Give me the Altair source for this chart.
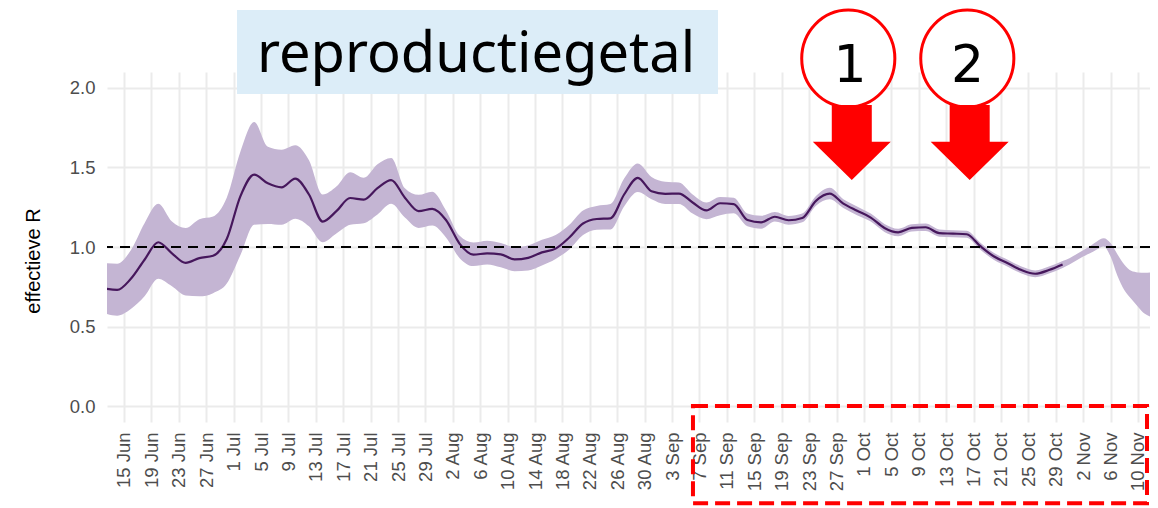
import altair as alt
import pandas as pd

# ---------------- data ----------------
dates = [
    "2020-06-12", "2020-06-14", "2020-06-16", "2020-06-18", "2020-06-20",
    "2020-06-22", "2020-06-24", "2020-06-26", "2020-06-28", "2020-06-30",
    "2020-07-02", "2020-07-04", "2020-07-06", "2020-07-08", "2020-07-10",
    "2020-07-12", "2020-07-14", "2020-07-16", "2020-07-18", "2020-07-20",
    "2020-07-22", "2020-07-24", "2020-07-26", "2020-07-28", "2020-07-30",
    "2020-08-01", "2020-08-03", "2020-08-05", "2020-08-07", "2020-08-09",
    "2020-08-11", "2020-08-13", "2020-08-15", "2020-08-17", "2020-08-19",
    "2020-08-21", "2020-08-23", "2020-08-25", "2020-08-27", "2020-08-29",
    "2020-08-31",
    "2020-09-02", "2020-09-04", "2020-09-06", "2020-09-08", "2020-09-10",
    "2020-09-12", "2020-09-14", "2020-09-16", "2020-09-18", "2020-09-20",
    "2020-09-22", "2020-09-24", "2020-09-26", "2020-09-28", "2020-09-30",
    "2020-10-02", "2020-10-04", "2020-10-06", "2020-10-08", "2020-10-10",
    "2020-10-12", "2020-10-14", "2020-10-16", "2020-10-18", "2020-10-20",
    "2020-10-22", "2020-10-24", "2020-10-26", "2020-10-28", "2020-10-30",
]
r_median = [
    0.74, 0.73, 0.80, 0.92, 1.03, 0.96, 0.90, 0.93, 0.945, 1.05,
    1.32, 1.455, 1.40, 1.375, 1.43, 1.33, 1.16, 1.225, 1.308, 1.298,
    1.37, 1.42, 1.31, 1.225, 1.24,
    1.17, 1.02, 0.952, 0.96, 0.954, 0.922, 0.932, 0.966, 0.99, 1.06,
    1.148, 1.176, 1.18, 1.33, 1.435, 1.35,
    1.334, 1.336, 1.28, 1.23, 1.275, 1.27, 1.17, 1.155, 1.19, 1.168,
    1.182, 1.29, 1.335, 1.273, 1.228,
    1.185, 1.12, 1.092, 1.12, 1.124, 1.087, 1.084, 1.08, 1.005, 0.94,
    0.898, 0.855, 0.832, 0.855, 0.89,
]
r_upper = [
    0.90, 0.895, 0.98, 1.15, 1.272, 1.16, 1.12, 1.175, 1.192, 1.31,
    1.60, 1.785, 1.63, 1.612, 1.64, 1.545, 1.33, 1.38, 1.47, 1.435,
    1.52, 1.56, 1.37, 1.328, 1.348,
    1.23, 1.07, 1.028, 1.04, 1.025, 1.0, 1.01, 1.045, 1.075, 1.14,
    1.23, 1.258, 1.27, 1.43, 1.525, 1.44,
    1.41, 1.405, 1.33, 1.28, 1.315, 1.31, 1.21, 1.196, 1.22, 1.195,
    1.21, 1.32, 1.372, 1.30, 1.255,
    1.21, 1.145, 1.115, 1.143, 1.147, 1.11, 1.105, 1.102, 1.027, 0.962,
    0.92, 0.877, 0.853, 0.877, 0.912,
]
r_lower = [
    0.585, 0.568, 0.61, 0.69, 0.80, 0.753, 0.695, 0.69, 0.71, 0.77,
    0.95, 1.14, 1.145, 1.14, 1.178, 1.13, 1.03, 1.085, 1.14, 1.15,
    1.205, 1.272, 1.185, 1.12, 1.135,
    1.06, 0.93, 0.88, 0.89, 0.872, 0.848, 0.853, 0.884, 0.925, 0.985,
    1.075, 1.109, 1.11, 1.255, 1.345, 1.30,
    1.27, 1.27, 1.21, 1.175, 1.20, 1.212, 1.13, 1.115, 1.16, 1.14,
    1.155, 1.26, 1.30, 1.245, 1.20,
    1.16, 1.095, 1.068, 1.097, 1.10, 1.065, 1.062, 1.058, 0.983, 0.918,
    0.876, 0.833, 0.81, 0.833, 0.868,
]
# ribbon continues after the median line stops
tail_dates = [
    "2020-10-31", "2020-11-01", "2020-11-02", "2020-11-03", "2020-11-04",
    "2020-11-05", "2020-11-06", "2020-11-07", "2020-11-08", "2020-11-09",
    "2020-11-10", "2020-11-11", "2020-11-12",
]
tail_upper = [0.93, 0.955, 0.98, 1.005, 1.035, 1.055, 1.025, 0.955, 0.89, 0.85, 0.84, 0.838, 0.84]
tail_lower = [0.89, 0.915, 0.94, 0.96, 0.985, 1.003, 0.94, 0.82, 0.73, 0.675, 0.625, 0.58, 0.56]

tick_dates = [
    "2020-06-15", "2020-06-19", "2020-06-23", "2020-06-27", "2020-07-01",
    "2020-07-05", "2020-07-09", "2020-07-13", "2020-07-17", "2020-07-21",
    "2020-07-25", "2020-07-29", "2020-08-02", "2020-08-06", "2020-08-10",
    "2020-08-14", "2020-08-18", "2020-08-22", "2020-08-26", "2020-08-30",
    "2020-09-03", "2020-09-07", "2020-09-11", "2020-09-15", "2020-09-19",
    "2020-09-23", "2020-09-27", "2020-10-01", "2020-10-05", "2020-10-09",
    "2020-10-13", "2020-10-17", "2020-10-21", "2020-10-25", "2020-10-29",
    "2020-11-02", "2020-11-06", "2020-11-10",
]
y_ticks = [0.0, 0.5, 1.0, 1.5, 2.0]
x_range = ["2020-06-12T12:30:00", "2020-11-11T18:10:00"]
y_range = [-0.1, 2.1]
y_title = "effectieve R"
y_title_pos = ["2020-06-02T17:45:00Z", 0.912]

# annotations (in data units)
title_box_x = ["2020-07-01T11:50:00Z", "2020-09-09T16:50:00Z"]
title_box_y = [1.962, 2.49]
title_text = "reproductiegetal"
title_text_pos = ["2020-08-05T09:10:00Z", 2.10]
marker_labels = ["1", "2"]
marker_circle_x = ["2020-09-28T17:15:00Z", "2020-10-16T02:10:00Z"]
marker_circle_y = [2.185, 2.185]
marker_text_x = ["2020-09-28T23:15:00Z", "2020-10-16T02:50:00Z"]
marker_text_y = [2.037, 2.037]
arrow_x = ["2020-09-29T05:30:00Z", "2020-10-16T10:30:00Z"]
arrow_y = [1.657, 1.657]
box_x = ["2020-09-06T01:10:00Z", "2020-11-11T07:40:00Z"]
box_y = [0.0, -0.61]


def ms(s):
    return int(pd.Timestamp(s).value // 10**6)


iso = lambda s: s + "T00:00:00Z"

ribbon_df = pd.DataFrame({
    "date": [iso(d) for d in dates + tail_dates],
    "lower": r_lower + tail_lower,
    "upper": r_upper + tail_upper,
})
line_df = pd.DataFrame({"date": [iso(d) for d in dates], "median": r_median})

xscale = alt.Scale(domain=[ms(x_range[0]), ms(x_range[1])])
yscale = alt.Scale(domain=y_range, nice=False, zero=False)

LABEL_FONT = "Liberation Sans"
x_axis = alt.Axis(
    values=[ms(t) for t in tick_dates],
    labelExpr="utcFormat(datum.value, '%-d %b')",
    labelAngle=270, grid=True, title=None, labelOverlap=False,
)
y_axis = alt.Axis(values=y_ticks, format=".1f", grid=True, title=None)


def X(field):
    return alt.X(field, scale=xscale, axis=x_axis)


def Y(field):
    return alt.Y(field, scale=yscale, axis=y_axis)


ribbon = alt.Chart(ribbon_df).mark_area(
    color="#c4b5d3", opacity=1, interpolate="monotone", clip=True
).encode(x=X("date:T"), y=Y("lower:Q"), y2="upper:Q")

line = alt.Chart(line_df).mark_line(
    color="#46175c", strokeWidth=2.2, interpolate="monotone", clip=True
).encode(x=X("date:T"), y=Y("median:Q"))

ref = alt.Chart(pd.DataFrame({"r": [1.0]})).mark_rule(
    color="black", strokeDash=[10, 7], strokeWidth=2
).encode(y=Y("r:Q"))

ytitle = alt.Chart(pd.DataFrame({"x": [y_title_pos[0]], "y": [y_title_pos[1]],
                                 "t": [y_title]})).mark_text(
    font=LABEL_FONT, fontSize=20, color="black", angle=270,
    align="center", baseline="alphabetic",
).encode(x=X("x:T"), y=Y("y:Q"), text="t:N")

tbox_df = pd.DataFrame({"x1": [title_box_x[0]], "x2": [title_box_x[1]],
                        "y1": [title_box_y[0]], "y2": [title_box_y[1]]})
tbox = alt.Chart(tbox_df).mark_rect(color="#dcedf8").encode(
    x=X("x1:T"), x2="x2:T", y=Y("y1:Q"), y2="y2:Q",
)
ttext = alt.Chart(pd.DataFrame({"x": [title_text_pos[0]], "y": [title_text_pos[1]],
                                "t": [title_text]})).mark_text(
    font="Noto Sans", fontSize=56, color="black", align="center", baseline="alphabetic"
).encode(x=X("x:T"), y=Y("y:Q"), text="t:N")

circ_df = pd.DataFrame({"x": marker_circle_x, "y": marker_circle_y})
circles = alt.Chart(circ_df).mark_point(
    shape="M0.96,0A0.96,1,0,1,1,-0.96,0A0.96,1,0,1,1,0.96,0Z",
    size=9409, filled=True, fill="white", stroke="red", strokeWidth=3, opacity=1,
).encode(x=X("x:T"), y=Y("y:Q"))

arrow_df = pd.DataFrame({"x": arrow_x, "y": arrow_y})
arrows = alt.Chart(arrow_df).mark_point(
    shape="M-0.5,-0.94L0.5,-0.94L0.5,-0.02L0.975,-0.02L0,0.94L-0.975,-0.02L-0.5,-0.02Z",
    size=6400, filled=True, color="red", opacity=1, strokeWidth=0,
).encode(x=X("x:T"), y=Y("y:Q"))

num_df = pd.DataFrame({"x": marker_text_x, "y": marker_text_y, "t": marker_labels})
nums = alt.Chart(num_df).mark_text(
    font="DejaVu Sans", fontSize=52, color="black", align="center", baseline="alphabetic"
).encode(x=X("x:T"), y=Y("y:Q"), text="t:N")

hbox_df = pd.DataFrame({"x1": [box_x[0]], "x2": [box_x[1]], "y1": [box_y[0]], "y2": [box_y[1]]})
hbox = alt.Chart(hbox_df).mark_rect(
    fill=None, fillOpacity=0, stroke="red", strokeWidth=4, strokeDash=[15, 7]
).encode(x=X("x1:T"), x2="x2:T", y=Y("y1:Q"), y2="y2:Q")

chart = alt.layer(
    ribbon, line, ref, ytitle, tbox, ttext, circles, arrows, nums, hbox
).properties(
    width=1043, height=350,
    autosize=alt.AutoSizeParams(type="none"),
    padding={"left": 99, "top": 64, "right": 0, "bottom": 86},
    background="white",
).configure_view(
    stroke=None
).configure_axis(
    labelFont=LABEL_FONT, labelFontSize=18.5, labelColor="#4d4d4d",
    ticks=False, tickSize=0, domain=False,
    gridColor="#ebebeb", gridWidth=2,
).configure_axisX(
    labelPadding=10,
).configure_axisY(
    labelPadding=12,
)

chart.save("out.html", embed_options={"renderer": "svg", "actions": False})
